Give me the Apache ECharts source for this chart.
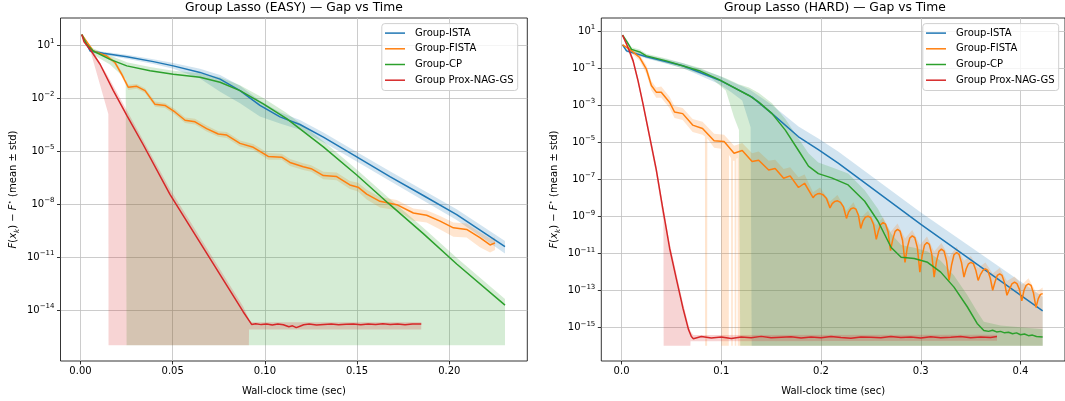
<!DOCTYPE html>
<html>
<head>
<meta charset="utf-8">
<script src="https://cdn.jsdelivr.net/npm/echarts@6/dist/echarts.min.js"></script>
<style>
  html, body { margin: 0; padding: 0; background: #fff; }
  #chart { width: 1065px; height: 401px; }
</style>
</head>
<body>
<div id="chart"></div>
<script>
// all y values are log10 of F(x_k) - F*
const FLOOR = -16;
const FONT = 'DejaVu Sans';
const NAMES = ['Group-ISTA', 'Group-FISTA', 'Group-CP', 'Group Prox-NAG-GS'];
const COLORS = ['#1f77b4', '#ff7f0e', '#2ca02c', '#d62728'];
const FILLS = ['rgba(31,119,180,0.2)', 'rgba(255,127,14,0.2)', 'rgba(44,160,44,0.2)', 'rgba(214,39,40,0.2)'];

const easyXTicks = [0, 0.05, 0.1, 0.15, 0.2];
const easyYTicks = [-14, -11, -8, -5, -2, 1];
const hardXTicks = [0, 0.1, 0.2, 0.3, 0.4];
const hardYTicks = [-15, -13, -11, -9, -7, -5, -3, -1, 1];

// ---- EASY ----
const easyIstaT = [0.0007, 0.0052, 0.0124, 0.0251, 0.0395, 0.0503, 0.0648, 0.0757, 0.0865, 0.0973, 0.1082, 0.1190, 0.1317, 0.1498, 0.1678, 0.1859, 0.2040, 0.2302];
const easyIsta = [1.59, 0.66, 0.53, 0.33, 0.06, -0.18, -0.55, -0.93, -1.58, -2.42, -3.07, -3.50, -4.21, -5.33, -6.45, -7.52, -8.60, -10.41];
const easyIstaHi = [1.62, 0.75, 0.62, 0.45, 0.20, -0.02, -0.35, -0.70, -1.30, -2.15, -2.80, -3.25, -3.95, -5.05, -6.15, -7.22, -8.30, -10.10];
const easyIstaLo = [1.55, 0.58, 0.45, 0.22, -0.08, -0.35, -0.90, -1.65, -2.30, -3.05, -3.45, -3.80, -4.50, -5.60, -6.70, -7.80, -8.90, -10.80];

const easyFistaT = [0.0007, 0.0069, 0.0142, 0.0187, 0.0223, 0.0259, 0.0305, 0.0350, 0.0404, 0.0458, 0.0512, 0.0567, 0.0621, 0.0684, 0.0747, 0.0793, 0.0865, 0.0937, 0.1018, 0.1091, 0.1136, 0.1208, 0.1251, 0.1317, 0.1389, 0.1461, 0.1505, 0.1552, 0.1624, 0.1715, 0.1805, 0.1877, 0.1950, 0.2022, 0.2094, 0.2166, 0.2221, 0.2248];
const easyFista = [1.59, 0.66, 0.38, 0.01, -0.65, -1.39, -1.34, -1.58, -2.36, -2.42, -2.79, -3.26, -3.35, -3.73, -4.04, -4.10, -4.57, -4.79, -5.31, -5.35, -5.65, -5.89, -6.00, -6.39, -6.45, -6.92, -7.05, -7.44, -7.85, -8.04, -8.51, -8.64, -8.97, -9.35, -9.44, -9.91, -10.32, -10.20];
const easyFistaHi = [1.62, 0.72, 0.46, 0.12, -0.50, -1.25, -1.20, -1.45, -2.20, -2.28, -2.62, -3.10, -3.18, -3.55, -3.88, -3.92, -4.40, -4.60, -5.12, -5.15, -5.45, -5.70, -5.80, -6.18, -6.22, -6.70, -6.80, -7.20, -7.60, -7.78, -8.25, -8.35, -8.68, -9.05, -9.10, -9.60, -9.95, -9.90];
const easyFistaLo = [1.55, 0.60, 0.30, -0.10, -0.80, -1.55, -1.48, -1.72, -2.50, -2.56, -2.95, -3.42, -3.50, -3.90, -4.20, -4.26, -4.75, -4.95, -5.50, -5.50, -5.85, -6.08, -6.18, -6.60, -6.65, -7.15, -7.30, -7.75, -8.20, -8.35, -8.95, -9.05, -9.45, -9.85, -9.90, -10.45, -10.75, -10.60];

const easyCpT = [0.0007, 0.0034, 0.0069, 0.0160, 0.0251, 0.0377, 0.0503, 0.0648, 0.0757, 0.0865, 0.0991, 0.1118, 0.1317, 0.1498, 0.1678, 0.1859, 0.2040, 0.2302];
const easyCp = [1.59, 1.03, 0.66, 0.19, -0.18, -0.46, -0.65, -0.83, -1.11, -1.58, -2.33, -3.17, -4.77, -6.36, -8.04, -9.68, -11.40, -13.73];
const easyCpBandT = [0.0007, 0.0034, 0.0069, 0.0160, 0.0245, 0.0250, 0.0377, 0.0503, 0.0648, 0.0757, 0.0865, 0.0991, 0.1118, 0.1317, 0.1498, 0.1678, 0.1859, 0.2040, 0.2302];
const easyCpHi = [1.62, 1.15, 0.80, 0.40, 0.05, 0.02, -0.25, -0.45, -0.60, -0.82, -1.28, -2.00, -2.85, -4.45, -6.05, -7.72, -9.35, -11.05, -13.38];
const easyCpLo = [1.55, 0.90, 0.45, -0.10, -0.93, FLOOR, FLOOR, FLOOR, FLOOR, FLOOR, FLOOR, FLOOR, FLOOR, FLOOR, FLOOR, FLOOR, FLOOR, FLOOR, FLOOR];

const easyNagT = [0.0007, 0.0019, 0.0052, 0.0106, 0.0178, 0.0251, 0.0341, 0.0485, 0.0882, 0.0928, 0.0950, 0.0980, 0.1010, 0.1040, 0.1070, 0.1100, 0.1130, 0.1150, 0.1170, 0.1190, 0.1210, 0.1240, 0.1280, 0.1320, 0.1360, 0.1400, 0.1440, 0.1480, 0.1520, 0.1560, 0.1600, 0.1640, 0.1680, 0.1720, 0.1760, 0.1800, 0.1848];
const easyNag = [1.59, 1.18, 0.75, -0.09, -1.58, -2.98, -4.66, -7.46, -14.10, -14.82, -14.78, -14.83, -14.80, -14.85, -14.79, -14.84, -14.95, -14.90, -15.00, -14.92, -14.84, -14.80, -14.85, -14.82, -14.80, -14.84, -14.81, -14.79, -14.84, -14.80, -14.83, -14.78, -14.82, -14.80, -14.84, -14.79, -14.80];
const easyNagBandT = [0.0007, 0.0052, 0.0069, 0.0151, 0.0152, 0.0251, 0.0485, 0.0882, 0.0913, 0.0914, 0.0928, 0.1848];
const easyNagHi = [1.62, 0.85, 0.62, -0.80, -0.82, -2.70, -7.15, -13.80, -14.50, -14.55, -14.70, -14.70];
const easyNagLo = [1.55, 0.70, 0.10, -2.90, FLOOR, FLOOR, FLOOR, FLOOR, FLOOR, -15.10, -15.10, -15.10];

// ---- HARD ----
const hardIstaT = [0.001, 0.005, 0.0249, 0.0613, 0.0978, 0.1309, 0.1509, 0.1774, 0.1973, 0.2172, 0.3001, 0.4222];
const hardIsta = [0.25, -0.07, -0.39, -0.87, -1.64, -2.57, -3.46, -4.71, -5.40, -6.13, -9.44, -14.11];
const hardIstaBandT = [0.001, 0.005, 0.0249, 0.0613, 0.0978, 0.1100, 0.1210, 0.1294, 0.1305, 0.1509, 0.1774, 0.1973, 0.2172, 0.3001, 0.4222];
const hardIstaHi = [0.30, 0.02, -0.30, -0.72, -1.42, -1.72, -1.98, -2.20, -2.24, -3.00, -4.15, -4.80, -5.50, -8.80, -13.35];
const hardIstaLo = [0.20, -0.15, -0.48, -1.00, -1.86, -2.30, -2.75, -4.20, FLOOR, FLOOR, FLOOR, FLOOR, FLOOR, FLOOR, FLOOR];

const hardFistaT = [0.001, 0.0083, 0.0182, 0.0249, 0.0299, 0.0348, 0.0398, 0.0481, 0.0531, 0.0613, 0.0713, 0.0812, 0.0928, 0.1028, 0.1128, 0.1210, 0.1309, 0.1375, 0.1475, 0.1540, 0.1625, 0.1690, 0.1774, 0.1835,
  0.1920, 0.1942, 0.1965, 0.1990, 0.2020, 0.2055, 0.2090, 0.2112, 0.2138, 0.2165, 0.2195, 0.2225, 0.2255,
  0.2276, 0.2300, 0.2325, 0.2350, 0.2375, 0.2398, 0.2420, 0.2445, 0.2471, 0.2498, 0.2527, 0.2554,
  0.2575, 0.2598, 0.2622, 0.2647, 0.2672, 0.2697, 0.2719, 0.2743, 0.2767, 0.2792, 0.2817, 0.2842,
  0.2865, 0.2890, 0.2915, 0.2940, 0.2966, 0.2991, 0.3013, 0.3038, 0.3062, 0.3086, 0.3110, 0.3134,
  0.3157, 0.3182, 0.3207, 0.3233, 0.3258, 0.3284, 0.3308, 0.3333, 0.3359, 0.3384, 0.3408, 0.3433,
  0.3455, 0.3478, 0.3502, 0.3527, 0.3551, 0.3575, 0.3598, 0.3623, 0.3648, 0.3672, 0.3697, 0.3721,
  0.3744, 0.3767, 0.3791, 0.3815, 0.3840, 0.3864, 0.3889, 0.3914, 0.3940, 0.3964, 0.3989, 0.4013,
  0.4035, 0.4057, 0.4080, 0.4105, 0.4130, 0.4155, 0.4178, 0.4200, 0.4222];
const hardFista = [0.25, 0.01, -0.43, -1.06, -1.94, -2.30, -2.30, -2.84, -3.37, -3.46, -4.08, -4.26, -4.92, -4.97, -5.60, -5.45, -6.04, -5.98, -6.50, -6.42, -6.95, -6.82, -7.45, -7.22,
  -8.00, -7.86, -7.79, -7.78, -7.84, -8.05, -8.55, -8.32, -8.20, -8.17, -8.25, -8.50, -9.12,
  -8.78, -8.60, -8.55, -8.62, -8.95, -9.66, -9.27, -9.05, -9.00, -9.08, -9.45, -10.25,
  -9.80, -9.45, -9.35, -9.43, -9.85, -10.86, -10.25, -9.82, -9.71, -9.80, -10.30, -11.49,
  -10.70, -10.18, -10.06, -10.16, -10.70, -12.02, -11.15, -10.55, -10.42, -10.52, -11.05, -12.29,
  -11.45, -10.90, -10.78, -10.88, -11.40, -12.47, -11.65, -11.08, -10.96, -11.06, -11.50, -12.29,
  -11.85, -11.57, -11.49, -11.56, -11.90, -12.47, -12.15, -11.93, -11.85, -11.93, -12.35, -13.00,
  -12.55, -12.20, -12.11, -12.20, -12.60, -13.27, -12.95, -12.65, -12.56, -12.64, -12.95, -13.57,
  -13.00, -12.73, -12.65, -12.73, -13.15, -13.93, -13.45, -13.22, -13.18];
const hardFistaHiT = [0.001, 0.0083, 0.0182, 0.0249, 0.0299, 0.0348, 0.0398, 0.0481, 0.0531, 0.0613, 0.0713, 0.0812, 0.0928, 0.1028, 0.1128, 0.1210, 0.1309, 0.1375, 0.1475, 0.1540, 0.1625, 0.1690, 0.1774, 0.1835,
  0.1920, 0.1990, 0.2090, 0.2165, 0.2255, 0.2325, 0.2398, 0.2471, 0.2554, 0.2622, 0.2697, 0.2767, 0.2842, 0.2915, 0.2991, 0.3062,
  0.3134, 0.3207, 0.3284, 0.3359, 0.3433, 0.3502, 0.3575, 0.3648, 0.3721, 0.3791, 0.3864, 0.3940, 0.4013, 0.4080, 0.4155, 0.4222];
const hardFistaHi = [0.30, 0.12, -0.28, -0.85, -1.70, -2.05, -2.00, -2.55, -3.05, -3.15, -3.75, -3.90, -4.55, -4.60, -5.20, -5.05, -5.60, -5.50, -6.00, -5.95, -6.45, -6.35, -6.90, -6.75,
  -7.70, -7.45, -8.20, -7.85, -8.70, -8.25, -9.10, -8.70, -9.50, -9.05, -9.85, -9.40, -10.20, -9.75, -10.55, -10.10,
  -10.90, -10.45, -11.20, -10.65, -11.40, -11.15, -11.80, -11.50, -12.10, -11.80, -12.50, -12.25, -12.70, -12.35, -13.10, -12.85];
const hardFistaLoT = [0.001, 0.0083, 0.0182, 0.0249, 0.0299, 0.0348, 0.0398, 0.0481, 0.0531, 0.0613, 0.0713, 0.0812, 0.0836, 0.0838, 0.0858, 0.0860, 0.0928, 0.0998, 0.1000, 0.1075, 0.1077, 0.1098, 0.1100, 0.1115, 0.1117, 0.1133, 0.1135, 0.1150, 0.1152, 0.1163, 0.1165, 0.4222];
const hardFistaLo = [0.20, -0.10, -0.60, -1.30, -2.20, -2.60, -2.60, -3.15, -3.70, -3.80, -4.45, -4.60, -4.70, FLOOR, FLOOR, -4.80, -5.30, -5.35, FLOOR, FLOOR, -5.70, -5.85, FLOOR, FLOOR, -6.00, -6.00, FLOOR, FLOOR, -5.90, -5.85, FLOOR, FLOOR];

const hardCpT = [0.001, 0.005, 0.010, 0.0182, 0.0249, 0.0448, 0.0779, 0.0978, 0.1277, 0.1376, 0.1509, 0.1642, 0.1774, 0.1874, 0.1973, 0.2106, 0.2272, 0.2438, 0.2570, 0.2703, 0.2803, 0.2935, 0.3068, 0.3200, 0.3333, 0.3466, 0.3565, 0.3632,
  0.3680, 0.3720, 0.3760, 0.3800, 0.3840, 0.3880, 0.3920, 0.3960, 0.4000, 0.4040, 0.4080, 0.4120, 0.4160, 0.4222];
const hardCp = [0.78, 0.46, 0.01, -0.13, -0.34, -0.61, -1.14, -1.62, -2.48, -2.84, -3.46, -4.35, -5.45, -6.30, -6.70, -6.93, -7.31, -8.19, -9.26, -10.69, -11.22, -11.28, -11.49, -12.02, -12.83, -13.89, -14.79, -15.17,
  -15.22, -15.16, -15.25, -15.22, -15.30, -15.27, -15.35, -15.30, -15.40, -15.36, -15.45, -15.42, -15.50, -15.53];
const hardCpBandT = [0.001, 0.005, 0.010, 0.0182, 0.0249, 0.0448, 0.0779, 0.0900, 0.1045, 0.1127, 0.1177, 0.1190, 0.1277, 0.1376, 0.1509, 0.1642, 0.1774, 0.1874, 0.1973, 0.2106, 0.2272, 0.2438, 0.2570, 0.2703, 0.2803, 0.2935, 0.3068, 0.3200, 0.3333, 0.3466, 0.3565, 0.3632, 0.3800, 0.4000, 0.4222];
const hardCpHi = [0.85, 0.55, 0.12, 0.00, -0.22, -0.48, -0.98, -1.25, -1.55, -1.75, -1.88, -1.90, -2.05, -2.35, -2.90, -3.75, -4.80, -5.60, -6.10, -6.35, -6.70, -7.60, -8.60, -9.95, -10.55, -10.70, -10.90, -11.40, -12.20, -13.25, -14.15, -14.70, -14.90, -15.00, -15.10];
const hardCpLo = [0.70, 0.38, -0.08, -0.25, -0.45, -0.74, -1.30, -1.55, -2.21, -3.64, -4.35, FLOOR, FLOOR, FLOOR, FLOOR, FLOOR, FLOOR, FLOOR, FLOOR, FLOOR, FLOOR, FLOOR, FLOOR, FLOOR, FLOOR, FLOOR, FLOOR, FLOOR, FLOOR, FLOOR, FLOOR, FLOOR, FLOOR, FLOOR, FLOOR];

const hardNagT = [0.001, 0.0066, 0.0116, 0.0165, 0.0215, 0.0282, 0.0348, 0.0414, 0.0482, 0.0550, 0.0616, 0.0670, 0.0700, 0.0720,
  0.080, 0.090, 0.100, 0.110, 0.120, 0.130, 0.140, 0.150, 0.160, 0.170, 0.180, 0.190, 0.200, 0.210, 0.220, 0.230, 0.240, 0.250, 0.260, 0.270, 0.280, 0.290, 0.300, 0.310, 0.320, 0.330, 0.340, 0.350, 0.360, 0.370, 0.3764];
const hardNag = [0.78, 0.10, -0.61, -1.68, -2.93, -4.71, -6.48, -8.60, -10.73, -12.40, -13.97, -15.10, -15.50, -15.62,
  -15.50, -15.58, -15.53, -15.60, -15.52, -15.56, -15.49, -15.57, -15.54, -15.51, -15.58, -15.53, -15.56, -15.50, -15.55, -15.59, -15.52, -15.54, -15.57, -15.50, -15.55, -15.53, -15.58, -15.51, -15.56, -15.54, -15.50, -15.57, -15.53, -15.55, -15.50];
const hardNagBandT = [0.001, 0.0066, 0.0116, 0.0165, 0.0215, 0.0282, 0.0348, 0.0400, 0.0420, 0.0422, 0.0482, 0.0550, 0.0616, 0.0670, 0.0690, 0.0692, 0.0720, 0.3764];
const hardNagHi = [0.82, 0.25, -0.45, -1.50, -2.75, -4.50, -6.25, -7.95, -8.55, -8.60, -10.45, -12.10, -13.70, -14.85, -15.20, -15.22, -15.42, -15.40];
const hardNagLo = [0.74, -0.05, -0.78, -1.85, -3.10, -4.95, -6.75, -8.55, -9.25, FLOOR, FLOOR, FLOOR, FLOOR, FLOOR, FLOOR, -15.75, -15.75, -15.72];

const chart = echarts.init(document.getElementById('chart'));

function bandSeries(idx, tHi, hi, tLo, lo, k) {
  return {
    type: 'custom', xAxisIndex: idx, yAxisIndex: idx, z: 1, silent: true,
    data: [[0, 0]],
    renderItem: function (params, api) {
      const pts = [];
      for (let i = 0; i < tHi.length; i++) pts.push(api.coord([tHi[i], hi[i]]));
      for (let i = tLo.length - 1; i >= 0; i--) pts.push(api.coord([tLo[i], lo[i]]));
      return { type: 'polygon', shape: { points: pts }, style: { fill: FILLS[k] } };
    }
  };
}

function lineSeries(idx, t, m, k) {
  return {
    name: NAMES[k], type: 'line', xAxisIndex: idx, yAxisIndex: idx, z: 3,
    data: t.map((x, i) => [x, m[i]]),
    symbol: 'none', silent: true,
    lineStyle: { color: COLORS[k], width: 1.5 },
    itemStyle: { color: COLORS[k] }
  };
}

const textBase = { fontFamily: FONT, color: '#000', fontSize: 10 };
const gridLine = { show: true, lineStyle: { color: '#bfbfbf', width: 0.8 } };

function xAxisFor(idx, min, max, ticks, digits) {
  return {
    type: 'value', gridIndex: idx, min: min, max: max,
    axisLine: { show: false, onZero: false },
    axisTick: { show: true, length: 3.5, customValues: ticks, lineStyle: { color: '#000', width: 0.8 } },
    axisLabel: Object.assign({ customValues: ticks, margin: 5, formatter: v => v.toFixed(digits) }, textBase),
    splitLine: gridLine,
    name: 'Wall-clock time (sec)', nameLocation: 'middle', nameGap: 25,
    nameTextStyle: textBase
  };
}

function yAxisFor(idx, min, max, ticks) {
  return {
    type: 'value', gridIndex: idx, min: min, max: max,
    axisLine: { show: false, onZero: false },
    axisTick: { show: true, length: 3.5, customValues: ticks, lineStyle: { color: '#000', width: 0.8 } },
    axisLabel: {
      customValues: ticks, margin: 6,
      formatter: v => '{b|10}{s|' + (v < 0 ? '\u2212' + (-v) : v) + '}',
      rich: {
        b: { fontFamily: FONT, color: '#000', fontSize: 10, lineHeight: 14 },
        s: { fontFamily: FONT, color: '#000', fontSize: 7, lineHeight: 9, verticalAlign: 'top' }
      }
    },
    splitLine: gridLine,
    name: '{i|F}({i|x}{sub|k}) \u2212 {i|F}{sup|\u22c6} (mean \u00b1 std)',
    nameLocation: 'middle', nameRotate: 90, nameGap: 40,
    nameTextStyle: {
      fontFamily: FONT, color: '#000', fontSize: 10, lineHeight: 14,
      rich: {
        i: { fontFamily: FONT, fontStyle: 'italic', color: '#000', fontSize: 10, lineHeight: 14 },
        sub: { fontFamily: FONT, fontStyle: 'italic', color: '#000', fontSize: 7, lineHeight: 9, verticalAlign: 'bottom' },
        sup: { fontFamily: FONT, color: '#000', fontSize: 7, lineHeight: 9, verticalAlign: 'top' }
      }
    }
  };
}

function legendFor(left) {
  return {
    data: NAMES, orient: 'vertical', left: left, top: 23.6,
    icon: 'rect', itemWidth: 20, itemHeight: 1.5, itemGap: 3.7,
    padding: [3.5, 4, 4.3, 3.2],
    backgroundColor: 'rgba(255,255,255,0.8)', borderColor: '#d0d0d0', borderWidth: 1, borderRadius: 3,
    textStyle: { fontFamily: FONT, color: '#000', fontSize: 10, lineHeight: 12, padding: [0, 0, 0, 5] },
    selectedMode: false
  };
}

const option = {
  animation: false,
  backgroundColor: '#fff',
  graphic: [
    { type: 'text', x: 293.9, y: 8, style: { text: 'Group Lasso (EASY) \u2014 Gap vs Time', font: '12.3px "DejaVu Sans"', fill: '#000', textAlign: 'center', textVerticalAlign: 'middle' } },
    { type: 'text', x: 834.9, y: 8, style: { text: 'Group Lasso (HARD) \u2014 Gap vs Time', font: '12.3px "DejaVu Sans"', fill: '#000', textAlign: 'center', textVerticalAlign: 'middle' } }
  ],
  grid: [
    { left: 60.5, top: 18, width: 466.8, height: 346.7, show: true, borderColor: '#000', borderWidth: 0.8, backgroundColor: 'transparent' },
    { left: 601.3, top: 18, width: 467.2, height: 346.7, show: true, borderColor: '#000', borderWidth: 0.8, backgroundColor: 'transparent' }
  ],
  xAxis: [
    xAxisFor(0, -0.01085, 0.2423, easyXTicks, 2),
    xAxisFor(1, -0.0203, 0.4446, hardXTicks, 1)
  ],
  yAxis: [
    yAxisFor(0, -16.89, 2.53, easyYTicks),
    yAxisFor(1, -16.82, 1.705, hardYTicks)
  ],
  legend: [legendFor(381.8), legendFor(922.8)],
  series: [
    bandSeries(0, easyIstaT, easyIstaHi, easyIstaT, easyIstaLo, 0),
    bandSeries(0, easyFistaT, easyFistaHi, easyFistaT, easyFistaLo, 1),
    bandSeries(0, easyCpBandT, easyCpHi, easyCpBandT, easyCpLo, 2),
    bandSeries(0, easyNagBandT, easyNagHi, easyNagBandT, easyNagLo, 3),
    lineSeries(0, easyIstaT, easyIsta, 0),
    lineSeries(0, easyFistaT, easyFista, 1),
    lineSeries(0, easyCpT, easyCp, 2),
    lineSeries(0, easyNagT, easyNag, 3),
    bandSeries(1, hardIstaBandT, hardIstaHi, hardIstaBandT, hardIstaLo, 0),
    bandSeries(1, hardFistaHiT, hardFistaHi, hardFistaLoT, hardFistaLo, 1),
    bandSeries(1, hardCpBandT, hardCpHi, hardCpBandT, hardCpLo, 2),
    bandSeries(1, hardNagBandT, hardNagHi, hardNagBandT, hardNagLo, 3),
    lineSeries(1, hardIstaT, hardIsta, 0),
    lineSeries(1, hardFistaT, hardFista, 1),
    lineSeries(1, hardCpT, hardCp, 2),
    lineSeries(1, hardNagT, hardNag, 3)
  ]
};

chart.setOption(option);
</script>
</body>
</html>
